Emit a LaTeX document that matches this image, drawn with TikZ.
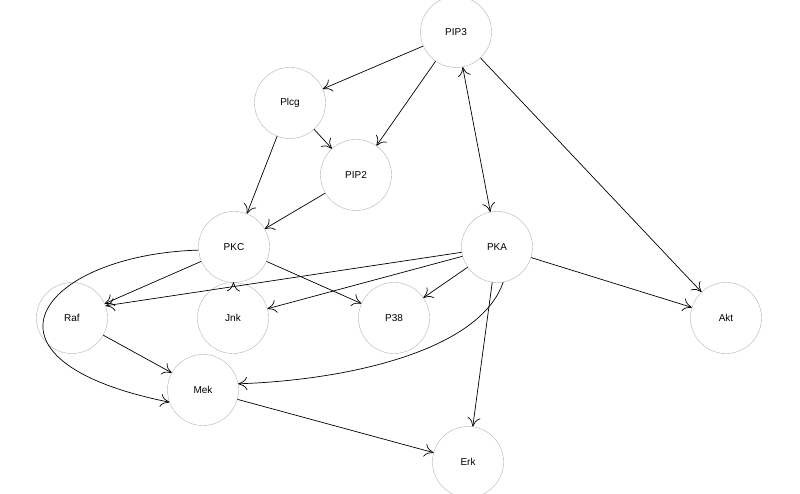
\documentclass[tikz,border=0pt]{standalone}
\usepackage{fontspec}
\setmainfont{Liberation Sans}
\usetikzlibrary{arrows.meta}
\begin{document}
\begin{tikzpicture}[x=1pt,y=-1pt,
  n/.style={circle,draw=black!30,minimum size=71pt,inner sep=0pt,font=\fontsize{10}{12}\selectfont},
  e/.style={draw=black,-{To[length=9pt,width=13pt]},line width=0.7pt}]
\useasboundingbox (0,0) rectangle (800,494);
\node[n] (PIP3) at (456,32) {PIP3};
\node[n] (Plcg) at (290,103) {Plcg};
\node[n] (PIP2) at (356,175) {PIP2};
\node[n] (PKC) at (234,247) {PKC};
\node[n] (PKA) at (497,247) {PKA};
\node[n] (Raf) at (72,318) {Raf};
\node[n] (Jnk) at (233,318) {Jnk};
\node[n] (P38) at (394,318) {P38};
\node[n] (Akt) at (726,318) {Akt};
\node[n] (Mek) at (203,390) {Mek};
\node[n] (Erk) at (468,462) {Erk};
\draw[e] (PIP3) -- (Plcg);
\draw[e] (PIP3) -- (PIP2);
\draw[e,{To[length=9pt,width=13pt]}-{To[length=9pt,width=13pt]}] (PIP3) -- (PKA);
\draw[e] (PIP3) -- (Akt);
\draw[e] (Plcg) -- (PIP2);
\draw[e] (Plcg) -- (PKC);
\draw[e] (PIP2) -- (PKC);
\draw[e] (PKC) -- (Raf);
\draw[e] (PKC) -- (Jnk);
\draw[e] (PKC) -- (P38);
\draw[e] (PKC.185) .. controls (40,255) and (-40,360) .. (Mek.200);
\draw[e] (PKA) -- (Raf.20);
\draw[e] (PKA) -- (Jnk);
\draw[e] (PKA) -- (P38);
\draw[e] (PKA) -- (Akt);
\draw[e] (PKA.280) .. controls (480,350) and (350,380) .. (Mek.10);
\draw[e] (PKA) -- (Erk);
\draw[e] (Raf) -- (Mek);
\draw[e] (Mek) -- (Erk);
\end{tikzpicture}
\end{document}
